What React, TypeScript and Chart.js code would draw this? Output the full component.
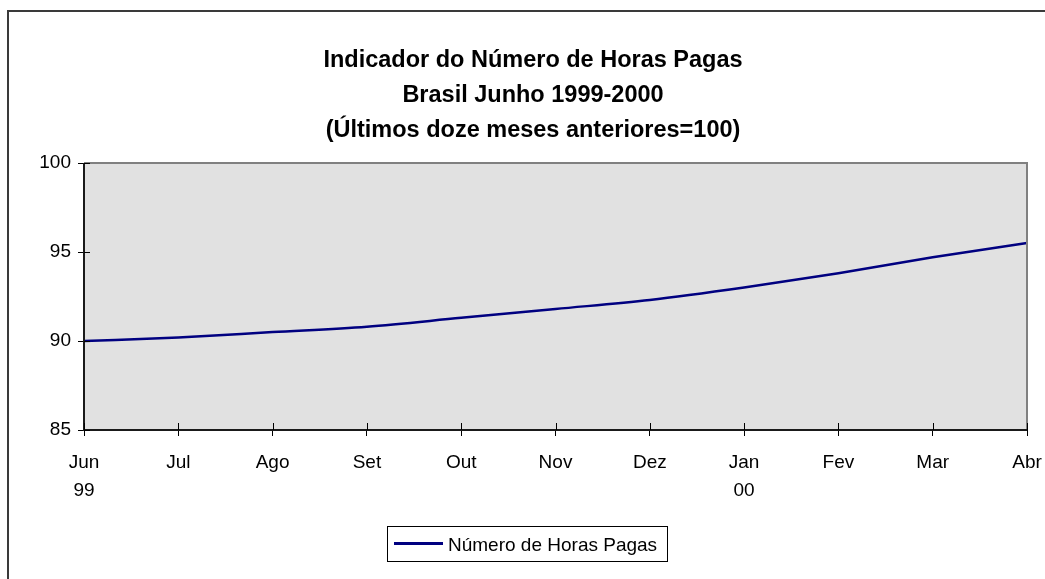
import React, { useEffect, useRef } from "react";
import { Chart, registerables } from "chart.js";

Chart.register(...registerables);

const months: string[][] = [
  ["Jun", "99"], ["Jul"], ["Ago"], ["Set"], ["Out"], ["Nov"], ["Dez"], ["Jan", "00"], ["Fev"], ["Mar"], ["Abr"],
];
const horasPagas: number[] = [90.0, 90.2, 90.5, 90.8, 91.3, 91.8, 92.3, 93.0, 93.8, 94.7, 95.5];
const seriesLabel = "Número de Horas Pagas";
const titleLines: string[] = [
  "Indicador do Número de Horas Pagas",
  "Brasil Junho 1999-2000",
  "(Últimos doze meses anteriores=100)",
];
const yTicks: number[] = [85, 90, 95, 100];

const FONT = "'Liberation Sans', Arial, sans-serif";

const decorPlugin = {
  id: "decor",
  beforeDraw(chart: any) {
    const { ctx, chartArea } = chart;
    ctx.save();
    ctx.fillStyle = "#ffffff";
    ctx.fillRect(0, 0, chart.width, chart.height);
    ctx.fillStyle = "#e1e1e1";
    ctx.fillRect(chartArea.left, chartArea.top, chartArea.right - chartArea.left, chartArea.bottom - chartArea.top);
    // outer border
    ctx.strokeStyle = "#3a3a3a";
    ctx.lineWidth = 2;
    ctx.beginPath();
    ctx.moveTo(8, chart.height + 2);
    ctx.lineTo(8, 11);
    ctx.lineTo(chart.width + 2, 11);
    ctx.stroke();
    ctx.restore();
  },
  afterDraw(chart: any) {
    const { ctx, chartArea, scales } = chart;
    const { left, right, top, bottom } = chartArea;
    ctx.save();
    // plot border
    ctx.lineWidth = 2;
    ctx.strokeStyle = "#808080";
    ctx.beginPath();
    ctx.moveTo(left, top);
    ctx.lineTo(right, top);
    ctx.lineTo(right, bottom);
    ctx.stroke();
    ctx.strokeStyle = "#1a1a1a";
    ctx.beginPath();
    ctx.moveTo(left, top);
    ctx.lineTo(left, bottom);
    ctx.lineTo(right, bottom);
    ctx.stroke();
    // inner tick parts
    ctx.lineWidth = 1;
    ctx.strokeStyle = "#000";
    ctx.beginPath();
    scales.x.ticks.forEach((_t: any, i: number) => {
      const x = Math.round(scales.x.getPixelForTick(i)) + 0.5;
      ctx.moveTo(x, bottom);
      ctx.lineTo(x, bottom - 7);
    });
    scales.y.ticks.forEach((_t: any, i: number) => {
      const y = Math.round(scales.y.getPixelForTick(i)) + 0.5;
      ctx.moveTo(left, y);
      ctx.lineTo(left + 6, y);
    });
    ctx.stroke();
    // title
    ctx.fillStyle = "#000";
    ctx.font = `bold 23.5px ${FONT}`;
    ctx.textAlign = "center";
    ctx.textBaseline = "alphabetic";
    const baselines = [67, 102, 137];
    titleLines.forEach((t, i) => ctx.fillText(t, 533, baselines[i]));
    // legend
    const ds = chart.data.datasets[0];
    ctx.strokeStyle = "#000";
    ctx.lineWidth = 1;
    ctx.strokeRect(387.5, 526.5, 280, 35);
    ctx.strokeStyle = ds.borderColor;
    ctx.lineWidth = 3;
    ctx.beginPath();
    ctx.moveTo(394, 543.5);
    ctx.lineTo(443, 543.5);
    ctx.stroke();
    ctx.fillStyle = "#000";
    ctx.font = `19px ${FONT}`;
    ctx.textAlign = "left";
    ctx.fillText(ds.label, 448, 550.5);
    ctx.restore();
  },
};

export default function App() {
  const ref = useRef<HTMLCanvasElement | null>(null);
  useEffect(() => {
    if (!ref.current) return;
    const chart = new Chart(ref.current, {
      type: "line",
      data: {
        labels: months,
        datasets: [
          {
            label: seriesLabel,
            data: horasPagas,
            borderColor: "#000080",
            backgroundColor: "#000080",
            borderWidth: 2.5,
            pointRadius: 0,
            cubicInterpolationMode: "monotone",
            fill: false,
          },
        ],
      },
      options: {
        animation: false,
        responsive: false,
        devicePixelRatio: 1,
        layout: { padding: { top: 163, right: 18, left: 0, bottom: 0 } },
        plugins: {
          legend: { display: false },
          title: { display: false },
          tooltip: { enabled: false },
        },
        scales: {
          x: {
            offset: false,
            grid: { drawOnChartArea: false, drawTicks: true, tickLength: 6, color: "#000", lineWidth: 1 },
            border: { display: false },
            ticks: {
              color: "#000",
              font: { family: FONT, size: 19, lineHeight: 1.47 },
              padding: 13,
              maxRotation: 0,
              autoSkip: false,
            },
            afterFit(scale: any) {
              scale.height = 149;
              scale.paddingRight = 0;
              scale.paddingLeft = 0;
            },
          },
          y: {
            min: 85,
            max: 100,
            afterBuildTicks(scale: any) {
              scale.ticks = yTicks.map((v) => ({ value: v }));
            },
            grid: { drawOnChartArea: false, drawTicks: true, tickLength: 6, color: "#000", lineWidth: 1 },
            border: { display: false },
            ticks: {
              color: "#000",
              font: { family: FONT, size: 19 },
              padding: 7,
            },
            afterFit(scale: any) {
              scale.width = 84;
            },
          },
        },
      },
      plugins: [decorPlugin],
    } as any);
    return () => chart.destroy();
  }, []);
  return (
    <div style={{ position: "absolute", left: 0, top: 0, width: 1045, height: 579 }}>
      <canvas ref={ref} width={1045} height={579} style={{ display: "block", width: 1045, height: 579 }} />
    </div>
  );
}
